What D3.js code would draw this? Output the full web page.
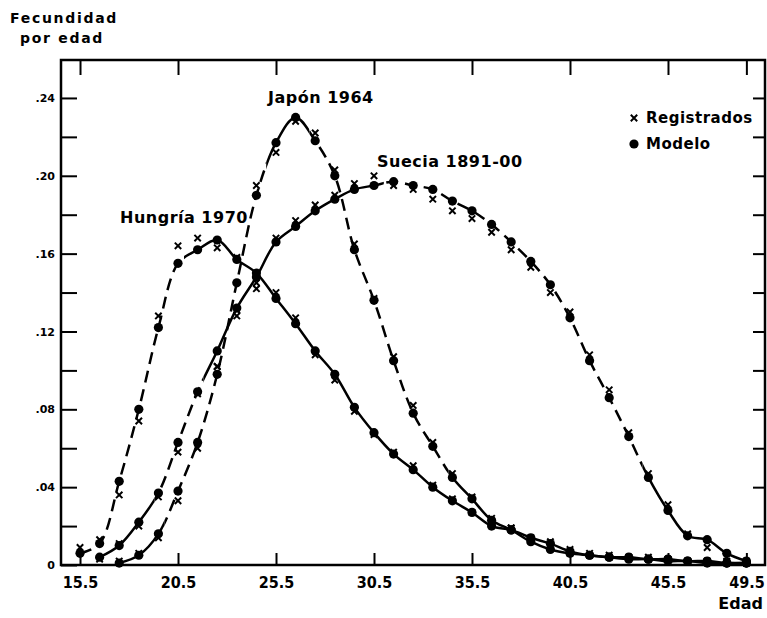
<!DOCTYPE html>
<html>
<head>
<meta charset="utf-8">
<script src="https://cdn.jsdelivr.net/npm/d3@7"></script>
<style>
body { margin: 0; background: #fff; }
svg text { font-family: "DejaVu Sans", sans-serif; font-weight: bold; fill: #000; }
</style>
</head>
<body>
<svg width="767" height="618"></svg>
<script>
// edades simples (puntos medios)
const ages = [15.5, 16.5, 17.5, 18.5, 19.5, 20.5, 21.5, 22.5, 23.5, 24.5,
              25.5, 26.5, 27.5, 28.5, 29.5, 30.5, 31.5, 32.5, 33.5, 34.5,
              35.5, 36.5, 37.5, 38.5, 39.5, 40.5, 41.5, 42.5, 43.5, 44.5,
              45.5, 46.5, 47.5, 48.5, 49.5];

const hungriaModelo = [.006, .011, .043, .080, .122, .155, .162, .167, .157, .150,
                       .137, .124, .110, .098, .081, .068, .057, .049, .040, .033,
                       .027, .020, .018, .014, .011, .007, .005, .004, .003, .003,
                       .002, .002, .001, .001, .001];
const hungriaRegistrados = [.009, .013, .036, .074, .128, .164, .168, .163, .158, .145,
                            .140, .127, .108, .095, .079, .067, .058, .051, .041, .034,
                            .027, .022, .019, .014, .012, .008, .006, .004, .004, .003,
                            .003, .002, .002, .001, .001];

const japonModelo = [null, null, .001, .005, .016, .038, .063, .098, .145, .190,
                     .217, .230, .218, .200, .162, .136, .105, .078, .061, .045,
                     .034, .023, .018, .012, .008, .006, .005, .004, .004, .003,
                     .003, .002, .002, .001, .001];
const japonRegistrados = [null, null, .002, .006, .014, .033, .060, .102, .131, .195,
                          .212, .228, .222, .203, .165, .137, .107, .082, .063, .047,
                          .035, .024, .019, .013, .010, .006, .005, .005, .004, .004,
                          .003, .002, .002, .002, .001];

const sueciaModelo = [null, .004, .010, .022, .037, .063, .089, .110, .132, .148,
                      .166, .174, .182, .188, .193, .195, .197, .195, .193, .187,
                      .182, .175, .166, .156, .144, .127, .105, .086, .066, .045,
                      .028, .015, .013, .006, .002];
const sueciaRegistrados = [null, .003, .011, .020, .035, .058, .088, .102, .128, .142,
                           .168, .177, .185, .190, .196, .200, .195, .193, .188, .182,
                           .178, .171, .162, .153, .140, .130, .108, .090, .068, .047,
                           .031, .016, .009, .004, .002];

const xTicks = [15.5, 20.5, 25.5, 30.5, 35.5, 40.5, 45.5, 49.5];
const yTicks = [0, .02, .04, .06, .08, .10, .12, .14, .16, .18, .20, .22, .24];

const svg = d3.select("svg");
const plotLeft = 61, plotRight = 765, plotTop = 60, plotBottom = 565;

const x = d3.scaleLinear().domain([14.53, 50.45]).range([plotLeft, plotRight]);
const y = d3.scaleLinear().domain([0, 0.2595]).range([plotBottom, plotTop]);

// tramos con trazo discontinuo / continuo (en edades)
const series = [
  { modelo: hungriaModelo, registrados: hungriaRegistrados,
    dashed: [[14.5, 20.8]], solid: [[20.8, 50.5]] },
  { modelo: japonModelo, registrados: japonRegistrados,
    dashed: [[19.8, 25], [27.2, 34.3]], solid: [[14.5, 19.8], [25, 27.2], [34.3, 50.5]] },
  { modelo: sueciaModelo, registrados: sueciaRegistrados,
    dashed: [[19.3, 21.8], [31, 44.2]], solid: [[14.5, 19.3], [21.8, 31], [44.2, 50.5]] }
];

const defs = svg.append("defs");

// ejes
const yLabel = d => d === 0 ? "0" : (Math.round(d * 100) % 4 === 0 ? d3.format(".2f")(d).replace(/^0/, "") : "");

const gy = svg.append("g")
  .attr("transform", `translate(${plotLeft},0)`)
  .call(d3.axisLeft(y).tickValues(yTicks).tickSizeInner(-16).tickSizeOuter(0).tickPadding(6).tickFormat(yLabel));
gy.selectAll("text").style("font-size", "11px");

const gyr = svg.append("g")
  .attr("transform", `translate(${plotRight},0)`)
  .call(d3.axisRight(y).tickValues(yTicks.slice(1)).tickSizeInner(-12).tickSizeOuter(0).tickFormat(""));

const gx = svg.append("g")
  .attr("transform", `translate(0,${plotBottom})`)
  .call(d3.axisBottom(x).tickValues(xTicks).tickSizeInner(-12).tickSizeOuter(0).tickPadding(12)
    .tickFormat(d3.format(".1f")));
gx.selectAll("text")
  .style("font-family", "'DejaVu Sans Condensed', 'DejaVu Sans', sans-serif")
  .style("font-size", "16px");

const gxt = svg.append("g")
  .attr("transform", `translate(0,${plotTop})`)
  .call(d3.axisTop(x).tickValues(xTicks).tickSizeInner(-15).tickSizeOuter(0).tickFormat(""));

[gy, gyr, gx, gxt].forEach(g => {
  g.select(".domain").remove();
  g.selectAll(".tick line").attr("stroke", "#000").attr("stroke-width", 2);
});

svg.append("rect")
  .attr("x", plotLeft).attr("y", plotTop)
  .attr("width", plotRight - plotLeft).attr("height", plotBottom - plotTop)
  .attr("fill", "none").attr("stroke", "#000").attr("stroke-width", 2.5);

// curvas del modelo
const line = d3.line()
  .defined(d => d.v != null)
  .x(d => x(d.age))
  .y(d => y(d.v))
  .curve(d3.curveCatmullRom.alpha(0.5));

series.forEach((s, i) => {
  const pts = ages.map((a, j) => ({ age: a, v: s.modelo[j] }));
  ["dashed", "solid"].forEach(kind => {
    const id = `clip-${i}-${kind}`;
    const cp = defs.append("clipPath").attr("id", id);
    s[kind].forEach(r => {
      cp.append("rect")
        .attr("x", x(r[0])).attr("y", 0)
        .attr("width", x(r[1]) - x(r[0])).attr("height", 618);
    });
    svg.append("path")
      .datum(pts)
      .attr("clip-path", `url(#${id})`)
      .attr("fill", "none")
      .attr("stroke", "#000")
      .attr("stroke-width", 2.5)
      .attr("stroke-dasharray", kind === "dashed" ? "12,7" : null)
      .attr("d", line);
  });
});

// puntos
const cross = (g, cx, cy, r) => {
  g.append("path")
    .attr("d", `M${cx - r},${cy - r}L${cx + r},${cy + r}M${cx - r},${cy + r}L${cx + r},${cy - r}`)
    .attr("stroke", "#000").attr("stroke-width", 2);
};

const marks = svg.append("g");
series.forEach(s => {
  ages.forEach((a, j) => {
    if (s.registrados[j] != null) cross(marks, x(a), y(s.registrados[j]), 3.2);
  });
  marks.selectAll(null)
    .data(ages.map((a, j) => ({ age: a, v: s.modelo[j] })).filter(d => d.v != null))
    .enter().append("circle")
    .attr("cx", d => x(d.age))
    .attr("cy", d => y(d.v))
    .attr("r", 4.6)
    .attr("fill", "#000");
});

// textos
svg.append("text").attr("x", 10).attr("y", 23)
  .style("font-size", "14px").style("letter-spacing", "1.7px").text("Fecundidad");
svg.append("text").attr("x", 20).attr("y", 43)
  .style("font-size", "14px").style("letter-spacing", "1.7px").text("por edad");
svg.append("text").attr("x", 763).attr("y", 609).attr("text-anchor", "end")
  .style("font-size", "16px").text("Edad");

svg.append("text").attr("x", 268).attr("y", 103)
  .style("font-size", "16px").style("letter-spacing", "0.5px").text("Japón 1964");
svg.append("text").attr("x", 377).attr("y", 167)
  .style("font-size", "16px").style("letter-spacing", "0.5px").text("Suecia 1891-00");
svg.append("text").attr("x", 120).attr("y", 223)
  .style("font-size", "16px").style("letter-spacing", "0.5px").text("Hungría 1970");

// leyenda
cross(svg, 634, 118, 3.2);
svg.append("text").attr("x", 646).attr("y", 123)
  .style("font-size", "15px").style("letter-spacing", "0.5px").text("Registrados");
svg.append("circle").attr("cx", 634).attr("cy", 144).attr("r", 4.6).attr("fill", "#000");
svg.append("text").attr("x", 646).attr("y", 149)
  .style("font-size", "15px").style("letter-spacing", "0.5px").text("Modelo");
</script>
</body>
</html>
